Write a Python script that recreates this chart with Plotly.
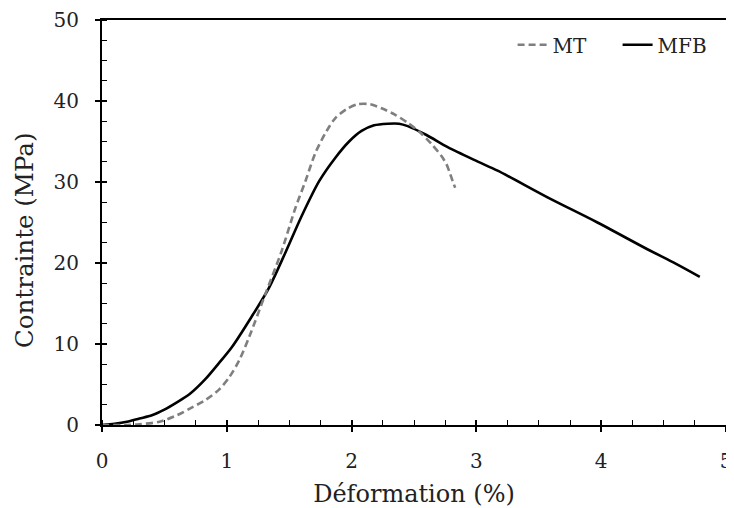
import plotly.graph_objects as go

# MT (dashed grey)
strain_mt = [0, 0.2, 0.3, 0.46, 0.6, 0.7, 0.83, 0.94, 1.02, 1.1, 1.18, 1.31, 1.44, 1.55, 1.63,
             1.71, 1.8, 1.87, 1.96, 2.05, 2.15, 2.24, 2.35, 2.45, 2.55, 2.64, 2.72, 2.76, 2.79,
             2.81, 2.83]
stress_mt = [0, 0, 0.1, 0.4, 1.2, 2.0, 3.1, 4.4, 5.9, 8.0, 10.9, 16.2, 21.5, 26.8, 30.1,
             33.6, 36.3, 37.9, 39.0, 39.6, 39.6, 39.1, 38.3, 37.3, 36.1, 34.7, 33.2, 32.2, 31.0,
             30.1, 29.3]

# MFB (solid black)
strain_mfb = [0, 0.1, 0.2, 0.3, 0.4, 0.5, 0.6, 0.7, 0.83, 0.94, 1.04, 1.2, 1.34, 1.47, 1.6,
              1.74, 1.87, 1.98, 2.08, 2.18, 2.29, 2.38, 2.45, 2.6, 2.77, 3.0, 3.17, 3.57, 3.97,
              4.37, 4.6, 4.79]
stress_mfb = [0, 0.15, 0.4, 0.8, 1.2, 1.9, 2.8, 3.8, 5.7, 7.7, 9.6, 13.4, 17.0, 21.3, 25.8,
              30.1, 33.0, 35.0, 36.3, 37.0, 37.2, 37.2, 36.9, 35.8, 34.3, 32.6, 31.4, 28.1, 25.0,
              21.7, 19.9, 18.3]

x_ticks = [0, 1, 2, 3, 4, 5]
y_ticks = [0, 10, 20, 30, 40, 50]

FONT = "DejaVu Serif"
TXT = "#222"

fig = go.Figure()
fig.add_trace(go.Scatter(x=strain_mt, y=stress_mt, name="MT", mode="lines",
                         line=dict(color="#7f7f7f", width=2.6, dash="7px,4px",
                                   shape="spline", smoothing=0.8),
                         xaxis="x2", yaxis="y2"))
fig.add_trace(go.Scatter(x=strain_mfb, y=stress_mfb, name="MFB", mode="lines",
                         line=dict(color="black", width=2.6, shape="spline", smoothing=0.8)))

common_x = dict(range=[0, 5], tickvals=x_ticks)
common_y = dict(range=[0, 50], tickvals=y_ticks)

# page body has an 8px margin, so the figure is sized/placed to compensate
fig.update_layout(
    width=726, height=500,
    margin=dict(l=94, r=8, t=12, b=83),
    paper_bgcolor="white", plot_bgcolor="white",
    font=dict(family=FONT, color=TXT),
    showlegend=True,
    legend=dict(orientation="h", x=0.658, y=0.939, xanchor="left", yanchor="middle",
                font=dict(family=FONT, size=20, color=TXT), bgcolor="rgba(0,0,0,0)",
                itemwidth=30, entrywidth=60),
    xaxis=dict(**common_x, showline=True, linecolor="black", linewidth=2, mirror=True,
               ticks="outside", ticklen=5, tickwidth=1.5, tickcolor="black",
               showgrid=False, zeroline=False, automargin=False, ticklabeloverflow="allow",
               tickfont=dict(family=FONT, size=20, color=TXT), ticklabelstandoff=12,
               minor=dict(dtick=0.25, ticks="inside", ticklen=5, tickwidth=1.2, tickcolor="black",
                          showgrid=False),
               title=dict(text="Déformation (%)", font=dict(family=FONT, size=24, color=TXT),
                          standoff=18)),
    yaxis=dict(**common_y, showline=True, linecolor="black", linewidth=2, mirror=True,
               ticks="outside", ticklen=5, tickwidth=1.5, tickcolor="black",
               showgrid=False, zeroline=False, automargin=False, ticklabeloverflow="allow",
               tickfont=dict(family=FONT, size=20, color=TXT), ticklabelstandoff=12,
               minor=dict(dtick=2.5, ticks="inside", ticklen=5, tickwidth=1.2, tickcolor="black",
                          showgrid=False)),
    xaxis2=dict(**common_x, overlaying="x", matches="x", showline=False, ticks="inside",
                ticklen=5, tickwidth=1.5, tickcolor="black", showticklabels=False,
                showgrid=False, zeroline=False),
    yaxis2=dict(**common_y, overlaying="y", matches="y", side="left", showline=False,
                ticks="inside", ticklen=5, tickwidth=1.5, tickcolor="black",
                showticklabels=False, showgrid=False, zeroline=False),
    annotations=[dict(text="Contrainte (MPa)", textangle=-90, xref="paper", yref="paper",
                      x=-0.1234, y=0.457, xanchor="center", yanchor="middle", showarrow=False,
                      font=dict(family=FONT, size=24.5, color=TXT))],
)

fig.write_html("out.html")
